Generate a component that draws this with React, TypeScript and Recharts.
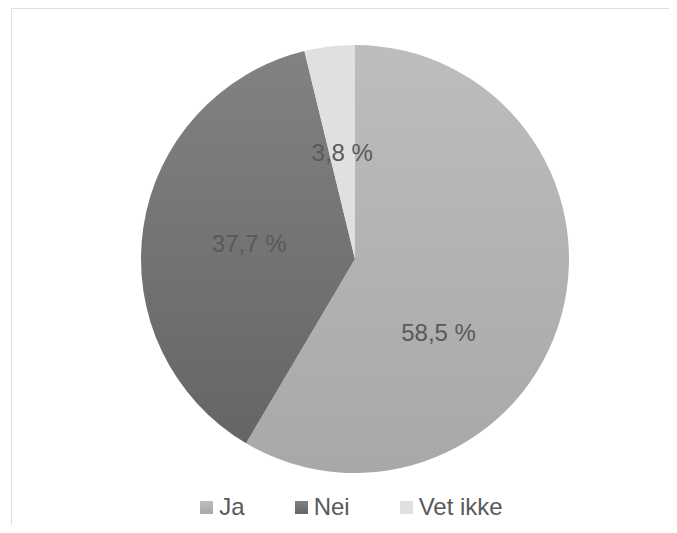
import React from "react";
import { PieChart, Pie, Cell, Legend } from "recharts";

// Svarfordeling
const categories = ["Ja", "Nei", "Vet ikke"];
const shares = [58.5, 37.7, 3.8];

// top/bottom of each gray gradient
const sliceColors = [
  ["#bdbdbd", "#a8a8a8"],
  ["#828282", "#656565"],
  ["#e0e0e0", "#e0e0e0"],
];

const data = categories.map((name, i) => ({ name, value: shares[i] }));

const RADIAN = Math.PI / 180;
const textColor = "#595959";
const font = "'Liberation Sans', Arial, sans-serif";

const renderLabel = (props: any) => {
  const { cx, cy, midAngle, outerRadius, value } = props;
  // Excel nudges the label of the big slice further down
  const angle = value > 50 ? midAngle - 26 : midAngle;
  const r = outerRadius * (value > 50 ? 0.52 : 0.5);
  const x = cx + r * Math.cos(-angle * RADIAN);
  const y = cy + r * Math.sin(-angle * RADIAN);
  return (
    <text
      x={x}
      y={y}
      fill={textColor}
      textAnchor="middle"
      dominantBaseline="central"
      fontSize={24}
      fontFamily={font}
    >
      {value.toFixed(1).replace(".", ",")} %
    </text>
  );
};

const renderLegend = () => (
  <div
    style={{
      display: "flex",
      justifyContent: "center",
      alignItems: "center",
      gap: 50,
      paddingLeft: 18,
      fontFamily: font,
      fontSize: 24,
      lineHeight: "28px",
      color: textColor,
    }}
  >
    {categories.map((c, i) => (
      <div key={c} style={{ display: "flex", alignItems: "center" }}>
        <span
          style={{
            display: "inline-block",
            width: 13,
            height: 13,
            marginRight: 6,
            background: `linear-gradient(${sliceColors[i][0]}, ${sliceColors[i][1]})`,
          }}
        />
        <span>{c}</span>
      </div>
    ))}
  </div>
);

export default function App() {
  return (
    <div
      style={{
        position: "relative",
        width: 669,
        height: 525,
        marginBottom: -8,
        overflow: "hidden",
        background: "#fff",
      }}
    >
      <div
        style={{
          position: "absolute",
          left: 3,
          top: 0,
          width: 700,
          height: 560,
          border: "1px solid #e0e0e0",
          boxSizing: "border-box",
        }}
      />
      <PieChart width={669} height={525} style={{ position: "absolute", left: 0, top: 0 }}>
        <defs>
          {sliceColors.map((c, i) => (
            <linearGradient key={i} id={`grad${i}`} x1="0" y1="0" x2="0" y2="1">
              <stop offset="0%" stopColor={c[0]} />
              <stop offset="100%" stopColor={c[1]} />
            </linearGradient>
          ))}
        </defs>
        <Pie
          data={data}
          dataKey="value"
          nameKey="name"
          cx={342}
          cy={246}
          outerRadius={214}
          startAngle={90}
          endAngle={-270}
          stroke="none"
          label={renderLabel}
          labelLine={false}
          isAnimationActive={false}
        >
          {data.map((d, i) => (
            <Cell key={d.name} fill={`url(#grad${i})`} />
          ))}
        </Pie>
        <Legend
          content={renderLegend}
          wrapperStyle={{ position: "absolute", left: 0, width: 669, top: 485 }}
        />
      </PieChart>
    </div>
  );
}
